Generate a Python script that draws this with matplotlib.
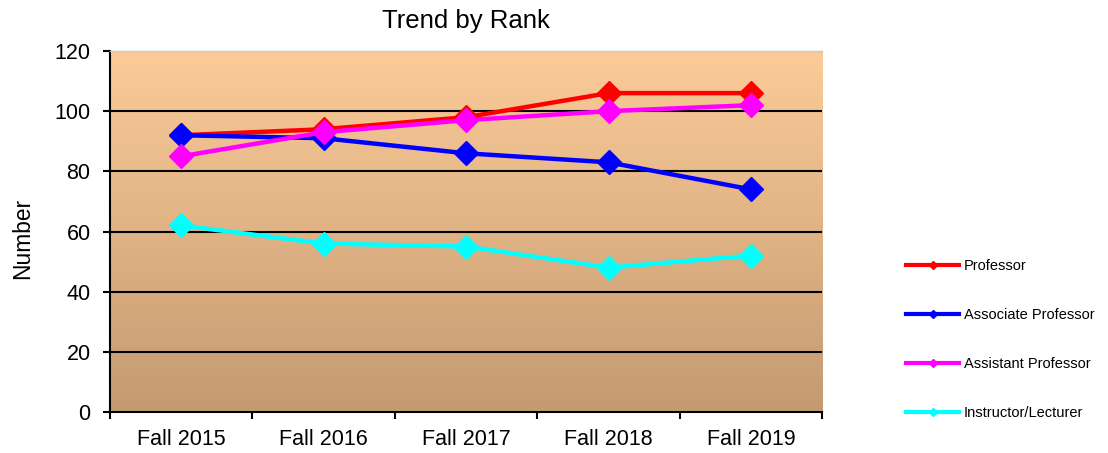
import matplotlib
matplotlib.use("Agg")
import matplotlib.pyplot as plt
import numpy as np
from matplotlib.colors import LinearSegmentedColormap

plt.rcParams['font.family'] = ['Liberation Sans', 'DejaVu Sans']

categories = ["Fall 2015", "Fall 2016", "Fall 2017", "Fall 2018", "Fall 2019"]
professor = [92, 94, 98, 106, 106]
associate = [92, 91, 86, 83, 74]
assistant = [85, 93, 97, 100, 102]
instructor = [62, 56, 55, 48, 52]
series_names = ["Professor", "Associate Professor", "Assistant Professor", "Instructor/Lecturer"]
series_colors = ["#FF0000", "#0000FF", "#FF00FF", "#00FFFF"]
yticks = [0, 20, 40, 60, 80, 100, 120]

fig = plt.figure(figsize=(11.08, 4.53), dpi=100)
ax = fig.add_axes([0.0993, 0.0905, 0.6427, 0.7969])

x = np.arange(len(categories))
ax.set_xlim(-0.5, len(categories) - 0.5)
ax.set_ylim(0, 120)

# gradient background
cmap = LinearSegmentedColormap.from_list("bg", ["#C49A72", "#FCCB98"])
grad = np.linspace(0, 1, 256).reshape(-1, 1)
ax.imshow(grad, aspect='auto', cmap=cmap, origin='lower',
          extent=[0, 1, 0, 1], transform=ax.transAxes, zorder=0)

for yv in yticks[1:-1]:
    ax.axhline(yv, color='black', lw=1.5, zorder=1)

data = [professor, associate, assistant, instructor]
for vals, name, col in zip(data, series_names, series_colors):
    ax.plot(x, vals, color=col, lw=3.2, marker='D', markersize=12.5,
            markeredgecolor=col, label=name, zorder=3)

ax.set_yticks(yticks)
ax.set_yticklabels([str(v) for v in yticks], fontsize=15.5)
ax.set_xticks(x)
ax.set_xticklabels(categories, fontsize=15.5)
ax.set_xticks(np.arange(-0.5, len(categories), 1), minor=True)
ax.tick_params(axis='x', which='major', length=0, pad=12)
ax.tick_params(axis='x', which='minor', length=5, width=1.5, direction='out')
ax.tick_params(axis='y', length=5, width=1.5, direction='out', pad=9)

for side in ['left', 'bottom']:
    ax.spines[side].set_linewidth(1.5)
    ax.spines[side].set_color('black')
ax.spines['top'].set_color('#C8C8C8')
ax.spines['top'].set_linewidth(1)
ax.spines['right'].set_visible(False)

ax.set_ylabel("Number", fontsize=16.4)
ax.yaxis.set_label_coords(-0.1067, 0.482)
ax.set_title("Trend by Rank", fontsize=18.5, pad=16.5)

leg_handles = []
for name, col in zip(series_names, series_colors):
    h, = ax.plot([], [], color=col, lw=3, marker='D', markersize=4, label=name)
    leg_handles.append(h)
fig.legend(handles=leg_handles, loc='upper left', bbox_to_anchor=(0.806, 0.458),
           frameon=False, fontsize=10.5, labelspacing=2.4, handlelength=3.63,
           handletextpad=0.34)

fig.savefig("out.png", dpi=100)
